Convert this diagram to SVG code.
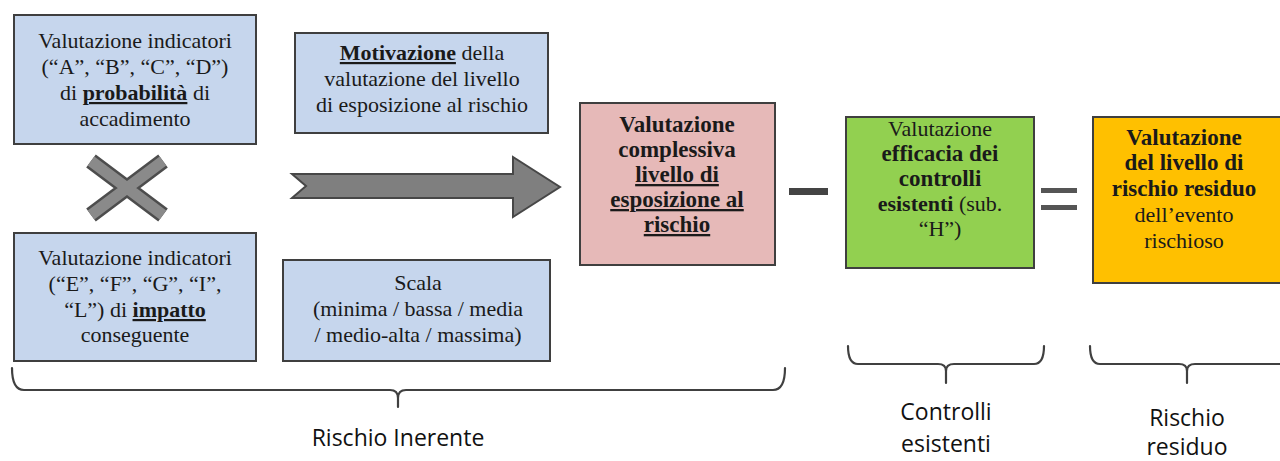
<svg xmlns="http://www.w3.org/2000/svg" width="1280" height="461" viewBox="0 0 1280 461">
<style>
.box{stroke:#3f3f3f;stroke-width:2}
.blue{fill:#c6d6ed}
.t{font-family:"Liberation Serif","Times New Roman",serif;font-size:22px;fill:#1a1a1a;text-anchor:middle}
.tb{font-family:"Liberation Serif","Times New Roman",serif;font-size:23px;font-weight:bold;fill:#1a1a1a;text-anchor:middle}
.b{font-weight:bold}
.u{text-decoration:underline}
.lbl{font-family:"Open Sans","Liberation Sans",sans-serif;font-size:23px;fill:#111;text-anchor:middle}
.br{fill:none;stroke:#404040;stroke-width:2.2;stroke-linejoin:round;stroke-linecap:round}
</style>
<rect width="1280" height="461" fill="#ffffff"/>

<g id="node-probabilita">
<rect class="box blue" x="14" y="15" width="242" height="129"/>
<text class="t" x="135" y="48">Valutazione indicatori</text>
<text class="t" x="135" y="74">(“A”, “B”, “C”, “D”)</text>
<text class="t" x="135" y="100">di <tspan class="b u">probabilità</tspan> di</text>
<text class="t" x="135" y="126">accadimento</text>
</g>

<g id="node-per">
<path d="M91,161 L163,215 M163,161 L91,215" stroke="#4d4d4d" stroke-width="16" stroke-linecap="butt"/>
<path d="M91,161 L163,215 M163,161 L91,215" stroke="#8a8a8a" stroke-width="11" stroke-linecap="butt"/>
</g>

<g id="node-impatto">
<rect class="box blue" x="14" y="233" width="242" height="128"/>
<text class="t" x="135" y="265">Valutazione indicatori</text>
<text class="t" x="135" y="291">(“E”, “F”, “G”, “I”,</text>
<text class="t" x="135" y="317">“L”) di <tspan class="b u">impatto</tspan></text>
<text class="t" x="135" y="342">conseguente</text>
</g>

<g id="node-motivazione">
<rect class="box blue" x="295" y="33" width="253" height="100"/>
<text class="t" x="422" y="60"><tspan class="b u">Motivazione</tspan> della</text>
<text class="t" x="422" y="86">valutazione del livello</text>
<text class="t" x="422" y="112">di esposizione al rischio</text>
</g>

<g id="node-scala">
<rect class="box blue" x="283" y="260" width="267" height="101"/>
<text class="t" x="418" y="290">Scala</text>
<text class="t" x="418" y="316">(minima / bassa / media</text>
<text class="t" x="418" y="342">/ medio-alta / massima)</text>
</g>

<g id="node-freccia">
<path d="M292,174 L513,174 L513,157 L560,187 L513,217 L513,198 L292,198 L306,186 Z" fill="#7f7f7f" stroke="#474747" stroke-width="2" stroke-linejoin="miter"/>
</g>

<g id="node-complessiva">
<rect class="box" x="580" y="103" width="195" height="162" fill="#e6b9b8"/>
<text class="tb" x="677" y="132">Valutazione</text>
<text class="tb" x="677" y="157">complessiva</text>
<text class="tb u" x="677" y="182">livello di</text>
<text class="tb u" x="677" y="207">esposizione al</text>
<text class="tb u" x="677" y="232">rischio</text>
</g>

<g id="node-meno">
<rect x="789" y="188" width="39" height="7" fill="#444444"/>
</g>

<g id="node-controlli">
<rect class="box" x="846" y="117" width="188" height="151" fill="#92d050"/>
<text class="t" x="940" y="136">Valutazione</text>
<text class="tb" x="940" y="161">efficacia dei</text>
<text class="tb" x="940" y="186">controlli</text>
<text class="t" x="940" y="211"><tspan class="b">esistenti</tspan> (sub.</text>
<text class="t" x="940" y="236">“H”)</text>
</g>

<g id="node-uguale">
<rect x="1041" y="188" width="36" height="5" fill="#555555"/>
<rect x="1041" y="205" width="36" height="5" fill="#555555"/>
</g>

<g id="node-residuo">
<rect class="box" x="1093" y="117" width="195" height="166" fill="#ffc000"/>
<text class="tb" x="1184" y="145">Valutazione</text>
<text class="tb" x="1184" y="170">del livello di</text>
<text class="tb" x="1184" y="196">rischio residuo</text>
<text class="t" x="1184" y="222">dell’evento</text>
<text class="t" x="1184" y="248">rischioso</text>
</g>

<g id="connectors">
<path class="br" d="M12,368 Q12,390 24,390 L390,390 Q398,390 398,398 L398,407 M398,398 Q398,390 406,390 L773,390 Q785,390 785,368"/>
<path class="br" d="M848,346 Q848,364 858,364 L938,364 Q946,364 946,371 L946,383 M946,371 Q946,364 954,364 L1034,364 Q1044,364 1044,346"/>
<path class="br" d="M1090,346 Q1090,364 1100,364 L1179,364 Q1187,364 1187,371 L1187,383 M1187,371 Q1187,364 1195,364 L1290,364"/>
</g>

<g id="labels">
<text class="lbl" x="398" y="446">Rischio Inerente</text>
<text class="lbl" x="946" y="420">Controlli</text>
<text class="lbl" x="946" y="452">esistenti</text>
<text class="lbl" x="1187" y="426">Rischio</text>
<text class="lbl" x="1187" y="455">residuo</text>
</g>
</svg>
